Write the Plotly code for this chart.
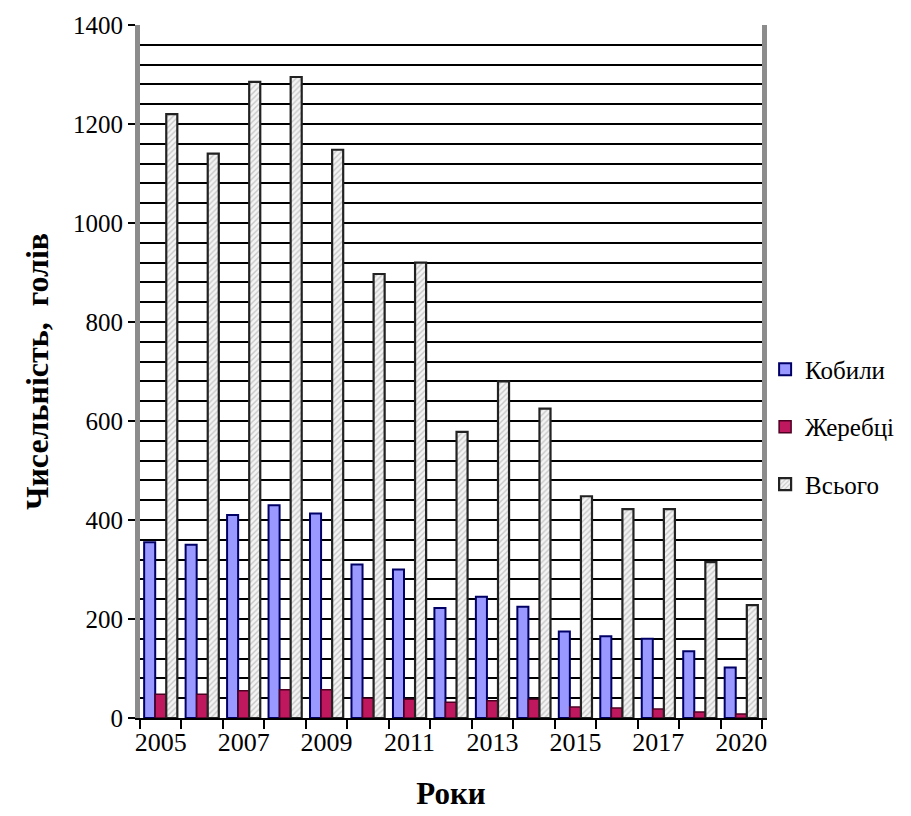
import plotly.graph_objects as go

years = ["2005", "2006", "2007", "2008", "2009", "2010", "2011", "2012",
         "2013", "2014", "2015", "2016", "2017", "2018", "2020"]
kobyly = [355, 350, 410, 430, 413, 310, 300, 222, 245, 225, 175, 165, 160, 135, 102]
zherebtsi = [48, 48, 55, 57, 57, 40, 38, 32, 35, 38, 22, 20, 18, 12, 8]
vsogo = [1220, 1140, 1285, 1295, 1148, 897, 920, 578, 680, 625, 448, 422, 422, 315, 228]
tick_labels = ["2005", "2007", "2009", "2011", "2013", "2015", "2017", "2020"]
tick_idx = [0, 2, 4, 6, 8, 10, 12, 14]

xpos = list(range(len(years)))
FONT = "Liberation Serif"

fig = go.Figure()
fig.add_trace(go.Bar(
    x=xpos, y=kobyly, name="Кобили", legendgroup="a",
    marker=dict(color="#9999FF", line=dict(color="#000066", width=2)),
))
fig.add_trace(go.Bar(
    x=xpos, y=zherebtsi, name="Жеребці", legendgroup="b",
    marker=dict(color="#C0185E", line=dict(color="#4d0022", width=1.5)),
))
fig.add_trace(go.Bar(
    x=xpos, y=vsogo, name="Всього", legendgroup="c",
    marker=dict(color="white", line=dict(color="#222222", width=2.2),
                pattern=dict(shape="/", fgcolor="#9a9a9a", bgcolor="#f4f4f4",
                             size=4, solidity=0.35)),
))

fig.update_layout(
    width=911, height=816,
    margin=dict(l=140, r=141, t=25, b=98),
    paper_bgcolor="white", plot_bgcolor="white",
    barmode="group", bargap=0.2, bargroupgap=0.0,
    font=dict(family=FONT, size=24, color="black"),
    legend=dict(x=1.005, y=0.42, xanchor="left", yanchor="middle",
                font=dict(family=FONT, size=25, color="black"), tracegroupgap=22,
                itemwidth=30, bgcolor="rgba(0,0,0,0)"),
    showlegend=True,
)
fig.update_xaxes(
    range=[-0.5, len(years) - 0.5],
    tickmode="array", tickvals=tick_idx, ticktext=tick_labels,
    ticks="", showgrid=False, zeroline=False,
    showline=True, linecolor="black", linewidth=2,
    minor=dict(ticks="outside", tick0=-0.5, dtick=1, ticklen=9,
               tickcolor="black", tickwidth=1.5, showgrid=False),
    tickfont=dict(family=FONT, size=26),
    title=dict(text="<b>Роки</b>", font=dict(family=FONT, size=31), standoff=26),
)
fig.update_yaxes(
    range=[0, 1400], dtick=200, tick0=0,
    ticks="outside", ticklen=7, tickcolor="black", tickwidth=1.5,
    showgrid=True, gridcolor="black", gridwidth=2,
    minor=dict(dtick=40, showgrid=True, gridcolor="black", gridwidth=2),
    zeroline=False,
    showline=True, linecolor="#8c8c8c", linewidth=5, mirror=True,
    tickfont=dict(family=FONT, size=25),
    title=dict(text="<b>Чисельність,  голів</b>", font=dict(family=FONT, size=32), standoff=16),
)

fig.write_html("out.html")
